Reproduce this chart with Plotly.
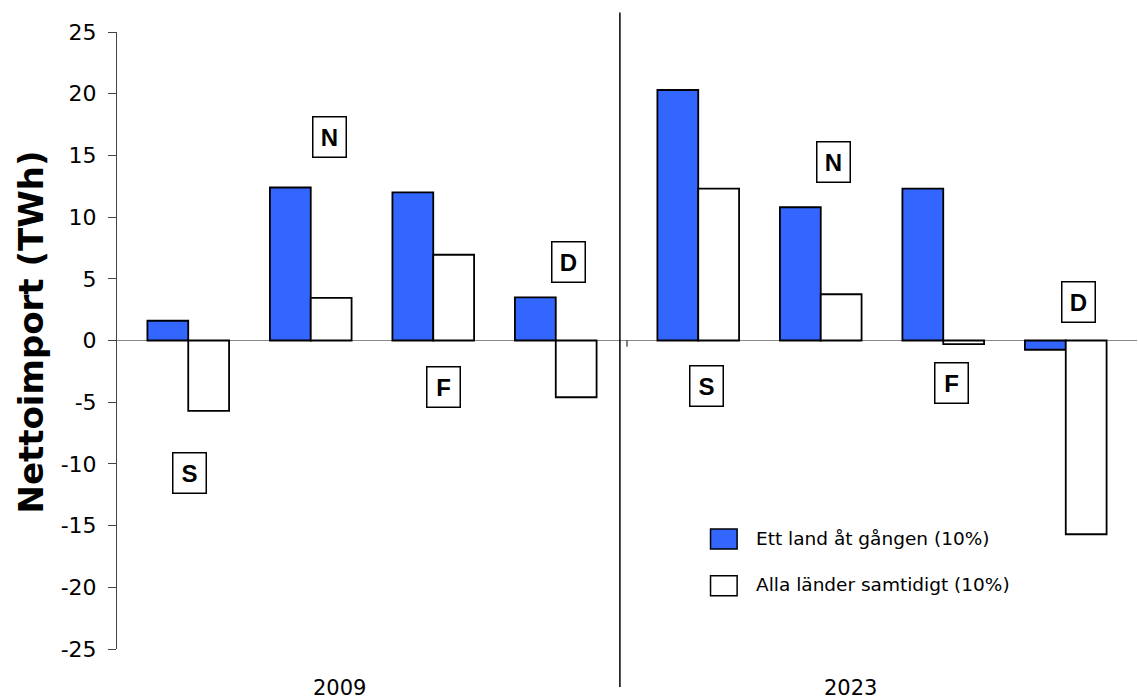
import plotly.graph_objects as go

# ---- data ----
countries = ["S", "N", "F", "D"]
years = ["2009", "2023"]
one_at_a_time_2009 = [1.6, 12.4, 12.0, 3.5]
all_at_once_2009 = [-5.7, 3.45, 6.95, -4.6]
one_at_a_time_2023 = [20.3, 10.8, 12.3, -0.75]
all_at_once_2023 = [12.3, 3.75, -0.3, -15.7]
series_names = ["Ett land åt gången (10%)", "Alla länder samtidigt (10%)"]
y_ticks = [-25, -20, -15, -10, -5, 0, 5, 10, 15, 20, 25]
y_title = "Nettoimport (TWh)"

# label boxes (offset within category, y value)
label_dx_2009 = [0.01, 0.15, 0.08, 0.10]
label_y_2009 = [-10.7, 16.5, -3.75, 6.4]
label_dx_2023 = [0.07, 0.10, 0.07, 0.10]
label_y_2023 = [-3.7, 14.45, -3.45, 3.1]

BLUE = "#3366ff"
FONT = "DejaVu Sans, Verdana, sans-serif"
FONT_BOX = "Liberation Sans, Arial, sans-serif"
W, H = 1138, 700
ML, MR, MT, MB = 116.7, 0.5, 31.6, 51.0
PW, PH = W - ML - MR, H - MT - MB


def px_x(px):
    return (px - ML) / PW


def px_y(py):
    return (H - MB - py) / PH


fig = go.Figure()
line = dict(color="black", width=1.8)
fig.add_trace(go.Bar(x=countries, y=one_at_a_time_2009, name=series_names[0],
                     marker=dict(color=BLUE, line=line), xaxis="x", yaxis="y",
                     showlegend=False))
fig.add_trace(go.Bar(x=countries, y=all_at_once_2009, name=series_names[1],
                     marker=dict(color="white", line=line), xaxis="x", yaxis="y",
                     showlegend=False))
fig.add_trace(go.Bar(x=countries, y=one_at_a_time_2023, name=series_names[0],
                     marker=dict(color=BLUE, line=line), xaxis="x2", yaxis="y",
                     showlegend=False))
fig.add_trace(go.Bar(x=countries, y=all_at_once_2023, name=series_names[1],
                     marker=dict(color="white", line=line), xaxis="x2", yaxis="y",
                     showlegend=False))

pad = 10 / 122.6
xcommon = dict(type="category", categoryorder="array", categoryarray=countries,
               range=[-0.5 - pad, 3.5 + pad], showticklabels=False, ticks="",
               showgrid=False, zeroline=False, showline=False, fixedrange=True)

annotations = []
for xa, dxs, ys in (("x", label_dx_2009, label_y_2009), ("x2", label_dx_2023, label_y_2023)):
    for i, (c, dx, yv) in enumerate(zip(countries, dxs, ys)):
        annotations.append(dict(
            x=i + dx, y=yv, xref=xa, yref="y", text="<b>%s</b>" % c, showarrow=False,
            font=dict(family=FONT_BOX, size=24, color="black"),
            bgcolor="white", bordercolor="black", borderwidth=1.5, borderpad=1,
            width=30, height=37, xanchor="center", yanchor="middle"))

# year labels
for yr, cx in zip(years, (339.5, 851.0)):
    annotations.append(dict(x=px_x(cx), y=px_y(688), xref="paper", yref="paper",
                            text=yr, showarrow=False, xanchor="center", yanchor="middle",
                            font=dict(family=FONT, size=21, color="black")))

# y-axis title
annotations.append(dict(x=px_x(31), y=px_y(332), xref="paper", yref="paper",
                        text="<b>%s</b>" % y_title, textangle=-90, showarrow=False,
                        xanchor="center", yanchor="middle",
                        font=dict(family=FONT, size=34, color="black")))

# legend (manual)
shapes = []
legend_colors = [BLUE, "white"]
legend_rows = [(529, 549), (575.7, 595.7)]
for name, col, (t, b) in zip(series_names, legend_colors, legend_rows):
    shapes.append(dict(type="rect", xref="paper", yref="paper",
                       x0=px_x(710.7), x1=px_x(737.3), y0=px_y(b), y1=px_y(t),
                       fillcolor=col, line=dict(color="black", width=1.5)))
    annotations.append(dict(x=px_x(754), y=px_y((t + b) / 2 - 1), xref="paper", yref="paper",
                            text=name, showarrow=False, xanchor="left", yanchor="middle",
                            font=dict(family=FONT, size=18.5, color="black")))

# separator between years
shapes.append(dict(type="line", xref="paper", yref="paper",
                   x0=px_x(620), x1=px_x(620), y0=px_y(687), y1=px_y(12),
                   line=dict(color="black", width=1.5)))
# small category tick at group boundary
shapes.append(dict(type="line", xref="paper", yref="y",
                   x0=0.5, x1=0.5, y0=0, y1=-0.5,
                   line=dict(color="black", width=1)))

fig.update_layout(
    width=W, height=H,
    margin=dict(l=ML, r=MR, t=MT, b=MB, autoexpand=False),
    paper_bgcolor="white", plot_bgcolor="white",
    barmode="group", bargap=1 / 3, bargroupgap=0,
    font=dict(family=FONT, color="black"),
    xaxis=dict(domain=[0, 0.5], anchor="y", **xcommon),
    xaxis2=dict(domain=[0.5, 1], anchor="y", **xcommon),
    yaxis=dict(range=[-25, 25], tickvals=y_ticks, ticktext=[str(v) for v in y_ticks],
               showline=True, linecolor="#444", linewidth=1,
               ticks="outside", ticklen=8, tickcolor="#444", tickwidth=1,
               showgrid=False, zeroline=True, zerolinecolor="#888", zerolinewidth=1,
               tickfont=dict(family=FONT, size=22, color="black"),
               ticklabelstandoff=7, fixedrange=True),
    annotations=annotations, shapes=shapes, showlegend=False,
)

fig.write_html("out.html", config={"displayModeBar": False},
               post_script="document.body.style.margin='0';document.body.style.overflow='hidden';")
